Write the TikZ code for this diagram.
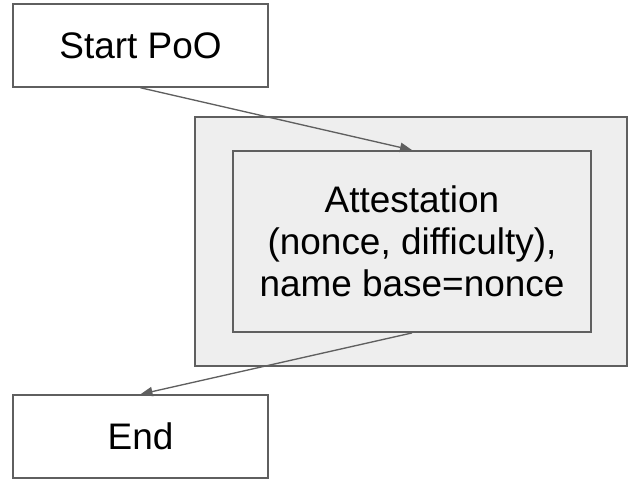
\documentclass[tikz,border=0pt]{standalone}
\usepackage{fontspec}
\setmainfont{Liberation Sans}
\usepackage{tikz}
\usetikzlibrary{arrows.meta, positioning, calc}

\definecolor{edgegrey}{HTML}{5F5F5F}
\definecolor{panelgrey}{HTML}{EEEEEE}

\begin{document}
\begin{tikzpicture}[x=0.75pt, y=-0.75pt]
            \tikzstyle{stepbox} = [draw=edgegrey, line width=1.4pt, rectangle, fill=white, minimum width=191pt, minimum height=62pt, align=center, font=\fontsize{27.7pt}{31.5pt}\selectfont]
            \tikzstyle{panel} = [draw=edgegrey, line width=1.4pt, rectangle, fill=panelgrey, inner sep=0pt]
            \tikzstyle{link} = [draw=edgegrey, line width=1pt, -{Triangle[length=9pt, width=7pt]}]
            \useasboundingbox (0,0) rectangle (628,479);
            
            \node[stepbox] (start) at (140.5, 45.5) {Start PoO};
            \node[panel, minimum width=324pt, minimum height=186.75pt] (group) at (411, 241.5) {};
            \node[panel, minimum width=268.5pt, minimum height=135.75pt, align=center, font=\fontsize{27.7pt}{31.5pt}\selectfont] (attest) at (412, 241.5) {Attestation\\(nonce, difficulty),\\name base=nonce};
            \node[stepbox] (end) at (140.5, 436.5) {End};
            
            \draw[link] (start.south) -- (attest.north);
            \draw[link] (attest.south) -- (end.north);
        \end{tikzpicture}
\end{document}
